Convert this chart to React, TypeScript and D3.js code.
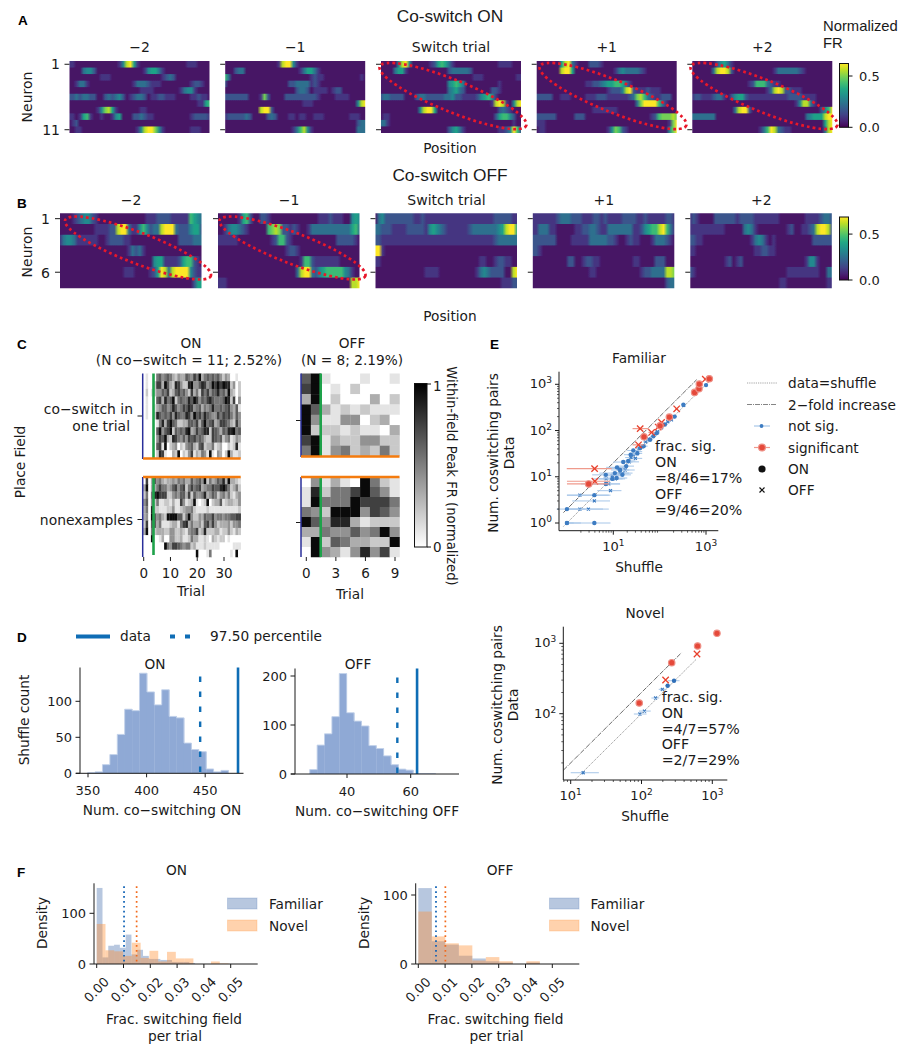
import React from "react";
import * as d3 from "d3";

const SANS = "DejaVu Sans";
const HELV = "Liberation Sans";
const INK = "#1a1a1a";

// ---- Panel A / B titles
const trialTitles = ["\u22122", "\u22121", "Switch trial", "+1", "+2"];

// ---- Panel A heat-maps: one string per neuron, one digit per spatial bin (0-9 of colour range)
const onM2 = [
  "1100000000000014895100000000000001110000",
  "0000344200000000000001455310000000000000",
  "0000000001110000000000000012320000000000",
  "0013310000000000001333211100000000122100",
  "0000000000000000000011110000000134410000",
  "2232332200232342012332011221110000112110",
  "0000000000000000000000000000000000001156",
  "0000000014785100000011000000000000000000",
  "1101561001001450002232110000000000122221",
  "0120000000000000000000000000000000000000",
  "0011000000000000000148997410000000111000",
];
const onM1 = [
  "0000000000000001899410000000000000000000",
  "0002330000000000000001355310000000000000",
  "6300000000000000000000001211000000000010",
  "2000000000000000002233331210000000000000",
  "0000000000000000000023320111101220000000",
  "2222222000172000022222222210000111100000",
  "0000000000000000000000111000000000000489",
  "0000000000899200000000000000000000000000",
  "1222223200002320001101100111000000011100",
  "0000000000000000000000000000000000000233",
  "0000000000000000000136841000000000000333",
];
const onSw = [
  "0000048940000012565310000000000001111000",
  "0000355100000000000233333200000000000000",
  "0000000000000000000000000011100000000011",
  "0000000000000000000456530000000001000000",
  "0000000000000000000345320000000221000000",
  "2332222000233222223342211112456410000000",
  "0000000000000000000000000000000189810489",
  "0000000000048995000000000000000002321000",
  "0110000000000000000000000000000025664200",
  "3310000000000000000000000000000000000100",
  "0000000000000000000245310000000001124962",
];
const onP1 = [
  "0000000589310002221000000000000000000000",
  "0000000899500000000000134333321000000000",
  "0000000000000000000000000000000000000000",
  "0000000000000011223455665310000000000000",
  "0000000000000000000012224892111211100000",
  "2222200111000011122211111123786321122200",
  "0000000000000000000000000000379999631000",
  "0000000000000000111111100000000000000000",
  "2222220000022200000000000000000012677787",
  "1110000000000000000000000000000000000179",
  "0110000000000000000014762100000000000479",
];
const onP2 = [
  "0000000245310000000000000000000000000000",
  "0000003899820000000000013333332100000000",
  "0000000000000000000000000000000000000000",
  "0000000000000000126663211000000000000000",
  "0000000000000000000001389822111000000000",
  "1221112331024552111111111112222111100000",
  "0000000000000000000000000000014883100000",
  "0000000000003899200000000000000000002469",
  "3333333000000000000000000000000034555899",
  "0000000000000000000000000000000000000589",
  "0000000000000000000136983211000000000389",
];
// ---- Panel B heat-maps
const offM2 = [
  "0000123442100000000000001112222111116543",
  "0000000000111122899311464233899932224552",
  "1344311111100122221100000000000002222333",
  "0000000000000000000132310000000000000000",
  "0000000000000000000000000045511112566210",
  "0000000000000000001110000125983899994211",
  "0000000000000000000000000000000000000255",
];
const offM1 = [
  "0000001562002210000000000000111211100454",
  "0013443210000067872212100133333333333563",
  "1111110000000001266210000000000002222210",
  "0000000000000000000122100000000000000000",
  "0000000000000000000000016621111111000000",
  "0000000000000000000000389932456666643100",
  "1110000000000000000000000000000000000889",
];
const offSw = [
  "0342222222211211111111111111111112222211",
  "3322211112222214543211111123333333458995",
  "2211111111111111111111111111111112333333",
  "9910000000000000000000000000000000000000",
  "1100000000000000000000000000011001221100",
  "0000000000000011110000000000134322220089",
  "0000000000000000000000000000000000011122",
];
const offP1 = [
  "1111111233322211122121111222211211111221",
  "1133311000001122332113333333112456689631",
  "2222222000011111333332210012110001333210",
  "2210000000000000000000000000000000000000",
  "0000000000220012211000000000110000222000",
  "0000000000000000110000000000001223333887",
  "0000000000000000000000000000000000000233",
];
const offP2 = [
  "1210000222222122221111111000000011112332",
  "1111111111000003431000000001200112389982",
  "2211000000000000013431010000000000222222",
  "1100000000000000001122110000000000000000",
  "0000000000120120000000000000000014410000",
  "2100000000000000000000000001111111110033",
  "0000000000000000000000000110000000000011",
];
const onMaps = [onM2, onM1, onSw, onP1, onP2];
const offMaps = [offM2, offM1, offSw, offP1, offP2];

// ---- Panel C: darkness digit per trial
const cOnTop = [
  "0100056456532433654759356565642430010",
  "0100277396328742289446874597979882402",
  "0201244657236756427352757466856493202",
  "0100067385692565586974657865556982704",
  "0100134664586457687456354585565674361",
  "0100286565748655874967586544757675364",
  "0000015837965223366573695673477653274",
  "0000069467926565893475688276536588956",
  "0000047693287546476756532276562451243",
  "0000067190234021456326723351230021281",
  "0000028710032902147132541910430293112",
];
const cOnBottom = [
  "0703645323343545336456492534658393321",
  "3903357553467467257567345576689752352",
  "2505897772245466372644583465245352134",
  "4604251122131174123910129023361233224",
  "3508221112241123445211112111111111112",
  "3409645329999662594224365574554556677",
  "2706635111233157835334267474233342445",
  "3905233322442232145572382223312242132",
  "0009001300442231125331121032122010000",
  "0000000095477654552311121111100000111",
  "0000000000000000000090001500000001090",
];
const cOffTop = [
  "6910001001", "7901020000", "3902000302", "9631212111",
  "9411440230", "9222121103", "7913224422", "5914523252",
];
const cOffBottom = [
  "0413109521", "1825579641", "1955597775", "5429994764",
  "9648831222", "3354464594", "1926533229", "0943148471",
];

// ---- Panel D histograms
const dOnStart = 349.7, dOnBin = 6.32;
const dOnCounts = [1, 2, 12, 26, 54, 89, 87, 139, 113, 95, 116, 79, 77, 42, 33, 30, 6, 2, 4];
const dOnData = 478, dOnPct = 445.7;
const dOffStart = 28.3, dOffBin = 2.32;
const dOffCounts = [9, 59, 82, 117, 205, 125, 108, 98, 58, 52, 37, 19, 10, 8, 1, 1, 1];
const dOffData = 62, dOffPct = 55.8;

// ---- Panel E Familiar
const famOnNsX = [1, 3.9, 1, 3.9, 6.9, 6.9, 10.8, 11.8, 15.7, 12, 16.4, 19, 23.7, 27, 33, 38, 62, 73, 87, 130, 210, 325, 1000, 14, 21, 45, 9.5];
const famOnNsY = [1, 1, 2, 4, 7, 11, 12, 9.4, 11, 16, 20.8, 17, 30, 37, 32, 42, 63, 75, 88, 135, 200, 360, 960, 14, 22, 46, 9];
const famOnNsLo = [0.95, 1, 0.6, 1, 2, 3.5, 5, 6, 9, 7, 10, 12, 17, 20, 25, 30, 52, 62, 76, 115, 185, 305, 950, 9, 15, 38, 5];
const famOnNsHi = [1.4, 8.7, 2.4, 8.7, 14, 15, 18, 20, 24, 19, 26, 28, 31, 36, 42, 46, 72, 84, 100, 148, 235, 345, 1040, 22, 30, 55, 16];
const famOffNsX = [1, 1.9, 2.9, 3.9, 1.9, 8.7, 8, 7, 11, 13, 14, 18, 22, 24, 27, 30, 33, 36, 42, 50, 58, 80, 90, 110, 150, 180, 200, 330, 16, 9.5];
const famOffNsY = [1, 2, 2, 3, 4, 5, 7, 9, 9, 15, 12, 14, 21, 26, 30, 25, 35, 41, 46, 57, 66, 85, 95, 115, 155, 170, 200, 350, 12, 10.5];
const famOffNsLo = [0.9, 1.1, 1, 1.3, 1, 4.5, 3, 3.5, 6, 8, 9, 12, 15, 18, 20, 24, 26, 30, 36, 44, 52, 72, 82, 100, 138, 165, 185, 310, 11, 6];
const famOffNsHi = [2, 6, 8, 8.5, 8, 15, 14, 13, 18, 20, 22, 29, 36, 32, 36, 42, 42, 46, 50, 58, 66, 90, 100, 122, 165, 195, 220, 355, 26, 15];
const famOnSigX = [2.94, 46, 102, 162, 568, 706, 718, 1180];
const famOnSigY = [7, 73, 127, 195, 668, 804, 1010, 1320];
const famOnSigLo = [1, 41, 95, 150, 540, 680, 690, 1120];
const famOnSigHi = [8, 52, 112, 175, 600, 735, 750, 1240];
const famOffSigX = [3.95, 4, 35, 38, 67, 110, 233, 966, 93];
const famOffSigY = [15, 8, 49, 110, 91, 150, 295, 1290, 119];
const famOffSigLo = [0.99, 1, 26, 26, 57, 98, 215, 900, 84];
const famOffSigHi = [9.2, 8.5, 45, 58, 78, 122, 250, 1030, 104];

// ---- Panel E Novel
const novOnNsX = [288, 234];
const novOnNsY = [294, 250];
const novOnNsLo = [235, 215];
const novOnNsHi = [345, 258];
const novOffNsX = [197, 158, 110, 95, 15];
const novOffNsY = [222, 167, 109, 99, 14.5];
const novOffNsLo = [175, 138, 92, 78, 10];
const novOffNsHi = [225, 178, 135, 118, 25];
const novOnSigX = [93, 267, 620, 1164];
const novOnSigY = [142, 530, 916, 1387];
const novOffSigX = [219, 608];
const novOffSigY = [301, 705];

const famText = ["frac. sig.", "ON", "=8/46=17%", "OFF", "=9/46=20%"];
const novText = ["frac. sig.", "ON", "=4/7=57%", "OFF", "=2/7=29%"];

// ---- Panel F histograms
const fOnFamBin = 0.00216;
const fOnFam = [150, 13, 36, 38, 32, 58, 19, 28, 16, 10, 10, 8, 8, 4, 4, 4, 2];
const fOnNovBin = 0.00328;
const fOnNov = [79, 27, 25, 16, 42, 12, 26, 5, 24, 11, 11, 0, 0, 5, 1];
const fOffBin = 0.00504;
const fOffFam = [110, 33, 28, 12, 8, 4, 2, 0, 2];
const fOffNov = [76, 40, 30, 27, 5, 10, 4, 0, 4];
const fOnMeans = [0.0102, 0.0149];
const fOffMeans = [0.0066, 0.0101];
const fTicks = [0, 0.01, 0.02, 0.03, 0.04, 0.05];

const BAR_FILL = "#8fa9d5";
const BAR_EDGE = "#c2d1ea";
const LINE_BLUE = "#0f6db5";

const T = ({ x, y, s = 13.7, a = "middle", f = SANS, w = 400, r, children, fill = INK, ls }: any) => (
  <text x={x} y={y} fontSize={s} fontFamily={f} fontWeight={w} textAnchor={a} fill={fill} letterSpacing={ls}
    transform={r !== undefined ? `rotate(${r} ${x} ${y})` : undefined}>{children}</text>
);

function Heat({ rows, id, x0, x1, y0, y1, ticks }: any) {
  const y = d3.scaleBand<number>().domain(d3.range(rows.length)).range([y0, y1]);
  const col = (d: number) => d3.interpolateViridis(0.05 + 0.95 * d / 9);
  return (
    <g>
      <defs>
        {rows.map((r: string, i: number) => {
          const cells = r.padEnd(40, "0").slice(0, 40).split("").map(Number);
          return (
            <linearGradient key={i} id={`${id}r${i}`}>
              {cells.map((c: number, j: number) => (
                <stop key={j} offset={(j + 0.5) / cells.length} stopColor={col(c)} />
              ))}
            </linearGradient>
          );
        })}
        <clipPath id={`${id}clip`}><rect x={x0} y={y0} width={x1 - x0} height={y1 - y0} /></clipPath>
      </defs>
      <g clipPath={`url(#${id}clip)`}>
        <g filter="url(#soft)">
          {rows.map((_: string, i: number) => (
            <rect key={i} x={x0 - 2} width={x1 - x0 + 4} y={y(i)! - (i === 0 ? 3 : 0)}
              height={y.bandwidth() + (i === 0 ? 4 : i === rows.length - 1 ? 3 : 1)} fill={`url(#${id}r${i})`} />
          ))}
        </g>
      </g>
      {ticks.map((k: number) => (
        <line key={k} x1={x0 - 5} x2={x0} y1={y(k)! + y.bandwidth() / 2} y2={y(k)! + y.bandwidth() / 2} stroke={INK} strokeWidth={1} />
      ))}
    </g>
  );
}

function Ell({ cx, cy, rx = 79, ry = 16, rot = 22 }: any) {
  return <ellipse cx={cx} cy={cy} rx={rx} ry={ry} transform={`rotate(${rot} ${cx} ${cy})`} fill="none"
    stroke="#e8172a" strokeWidth={2.7} strokeDasharray="2.7 3.1" />;
}

function VBar({ id, x0, x1, y0, y1, ticks, vmax }: any) {
  const y = d3.scaleLinear().domain([0, vmax]).range([y1, y0]);
  const stops = d3.range(0, 1.001, 0.1);
  return (
    <g>
      <defs>
        <linearGradient id={id} x1="0" y1="1" x2="0" y2="0">
          {stops.map((s: number) => <stop key={s} offset={s} stopColor={d3.interpolateViridis(s)} />)}
        </linearGradient>
      </defs>
      <rect x={x0} y={y0} width={x1 - x0} height={y1 - y0} fill={`url(#${id})`} stroke="#111" strokeWidth={1} />
      {ticks.map((t: number) => (
        <g key={t}>
          <line x1={x1} x2={x1 + 4} y1={y(t)} y2={y(t)} stroke="#111" />
          <T x={x1 + 10.5} y={y(t) + 5} a="start" s={13}>{t.toFixed(1)}</T>
        </g>
      ))}
    </g>
  );
}

function Gray({ rows, x0, x1, y0, y1, soft }: any) {
  const n = rows[0].length;
  const x = d3.scaleBand<number>().domain(d3.range(n)).range([x0, x1]);
  const y = d3.scaleBand<number>().domain(d3.range(rows.length)).range([y0, y1]);
  const c = d3.scaleLinear<string>().domain([0, 9]).range(["#ffffff", "#0a0a0a"]);
  return (
    <g filter={soft ? "url(#soft)" : undefined}>
      {rows.map((r: string, i: number) => r.split("").map((d: string, j: number) => (
        <rect key={`${i}-${j}`} x={x(j)} y={y(i)} width={x.bandwidth() + 0.25} height={y.bandwidth() + 0.25} fill={c(+d)} />
      )))}
    </g>
  );
}

function YTick({ x, y, label, s = 13 }: any) {
  return (
    <g>
      <line x1={x - 4.5} x2={x} y1={y} y2={y} stroke={INK} />
      {label !== undefined && <T x={x - 8} y={y + 5} a="end" s={s}>{label}</T>}
    </g>
  );
}

function Hist({ start, bin, counts, xs, ys, xTicks, yTicks, data, pct, axisL, axisR, top }: any) {
  const base = ys(0);
  const outline = d3.line<[number, number]>().curve(d3.curveStepAfter);
  const pts: [number, number][] = counts.map((c: number, i: number) => [xs(start + i * bin), ys(c)]);
  const end = xs(start + counts.length * bin);
  const path = outline([[xs(start), base], ...pts, [end, ys(counts[counts.length - 1])], [end, base]].map((p) => p as [number, number]));
  return (
    <g>
      {counts.map((c: number, i: number) => (
        <rect key={i} x={xs(start + i * bin)} width={xs(start + (i + 1) * bin) - xs(start + i * bin) + 0.3}
          y={ys(c)} height={base - ys(c)} fill={BAR_FILL} />
      ))}
      <path d={path!} fill="none" stroke={BAR_EDGE} strokeWidth={0.9} />
      <line x1={xs(pct)} x2={xs(pct)} y1={top + 9} y2={base} stroke={LINE_BLUE} strokeWidth={2.4} strokeDasharray="5.5 9.5" />
      <line x1={xs(data)} x2={xs(data)} y1={top} y2={base} stroke={LINE_BLUE} strokeWidth={2.6} />
      <line x1={axisL} x2={axisL} y1={top} y2={base} stroke={INK} />
      <line x1={axisL - 4} x2={axisR} y1={base} y2={base} stroke={INK} />
      {xTicks.map((t: number) => (
        <g key={t}>
          <line x1={xs(t)} x2={xs(t)} y1={base} y2={base + 4} stroke={INK} />
          <T x={xs(t)} y={base + 21.5} s={13}>{t}</T>
        </g>
      ))}
      {yTicks.map((t: number) => <YTick key={t} x={axisL} y={ys(t)} label={t} />)}
    </g>
  );
}

function Sup({ x, y, e, anchor = "middle" }: any) {
  return (
    <text x={x} y={y} fontFamily={SANS} fontSize={13} fill={INK} textAnchor={anchor}>
      10<tspan dy={-5} fontSize={9}>{e}</tspan>
    </text>
  );
}

function Marker({ kind, x, y, color, r, halo }: any) {
  if (kind === "o") return <circle cx={x} cy={y} r={r} fill={color} stroke={halo} strokeWidth={halo ? 1.2 : 0} />;
  return <path d={`M${x - r},${y - r}L${x + r},${y + r}M${x - r},${y + r}L${x + r},${y - r}`} stroke={color} strokeWidth={r > 2.5 ? 1.3 : 1.2} fill="none" />;
}

function Group({ xs, ys, X, Y, Lo, Hi, kind, color, err, r, ew, halo }: any) {
  return (
    <g>
      {Lo && X.map((_: number, i: number) => (
        <line key={i} x1={xs(Lo[i])} x2={xs(Hi[i])} y1={ys(Y[i])} y2={ys(Y[i])} stroke={err} strokeWidth={ew} />
      ))}
      {X.map((_: number, i: number) => <Marker key={i} kind={kind} x={xs(X[i])} y={ys(Y[i])} color={color} r={r} halo={halo} />)}
    </g>
  );
}

function LogAxes({ xs, ys, left, right, top, bottom, xMajor, yMajor, xMinor, yMinor }: any) {
  return (
    <g>
      <line x1={left} x2={left} y1={top} y2={bottom} stroke={INK} />
      <line x1={left} x2={right} y1={bottom} y2={bottom} stroke={INK} />
      {xMinor.filter((v: number) => xs(v) >= left && xs(v) <= right).map((v: number) => (
        <line key={v} x1={xs(v)} x2={xs(v)} y1={bottom} y2={bottom + 2} stroke={INK} strokeWidth={0.7} />
      ))}
      {yMinor.filter((v: number) => ys(v) <= bottom && ys(v) >= top).map((v: number) => (
        <line key={v} x1={left - 2} x2={left} y1={ys(v)} y2={ys(v)} stroke={INK} strokeWidth={0.7} />
      ))}
      {xMajor.map((v: number) => (
        <g key={v}>
          <line x1={xs(v)} x2={xs(v)} y1={bottom} y2={bottom + 4} stroke={INK} />
          <Sup x={xs(v)} y={bottom + 20} e={Math.round(Math.log10(v))} />
        </g>
      ))}
      {yMajor.map((v: number) => (
        <g key={v}>
          <line x1={left - 4} x2={left} y1={ys(v)} y2={ys(v)} stroke={INK} />
          <Sup x={left - 7} y={ys(v) + 4} e={Math.round(Math.log10(v))} anchor="end" />
        </g>
      ))}
    </g>
  );
}

const minorDecades = [1, 10, 100, 1000].flatMap((d) => [2, 3, 4, 5, 6, 7, 8, 9].map((k) => k * d));

function Refs({ xs, ys, a0, a1, b0, b1 }: any) {
  return (
    <g>
      <line x1={xs(a0)} x2={xs(a1)} y1={ys(a0)} y2={ys(a1)} stroke="#8a8a8a" strokeWidth={0.9} strokeDasharray="1.2 1" />
      <line x1={xs(b0)} x2={xs(b1)} y1={ys(2 * b0)} y2={ys(2 * b1)} stroke="#5a5a5a" strokeWidth={0.9} strokeDasharray="5 1 1 1" />
    </g>
  );
}

function FHist({ fam, nov, famBin, novBin, xs, ys, means, axisL, axisR, top, yTick }: any) {
  const base = ys(0);
  const bars = (arr: number[], bin: number, fill: string) => arr.map((c: number, i: number) => (
    <rect key={i} x={xs(i * bin)} width={xs((i + 1) * bin) - xs(i * bin)} y={ys(c)} height={base - ys(c)}
      fill={fill} fillOpacity={0.4} />
  ));
  return (
    <g>
      {bars(fam, famBin, "#4c72b0")}
      {bars(nov, novBin, "#ff8f33")}
      <line x1={xs(means[0])} x2={xs(means[0])} y1={top + 3} y2={base} stroke="#0b5fb4" strokeWidth={1.7} strokeDasharray="1.7 3.2" />
      <line x1={xs(means[1])} x2={xs(means[1])} y1={top + 3} y2={base} stroke="#f26a1b" strokeWidth={1.7} strokeDasharray="1.7 3.2" />
      <line x1={axisL} x2={axisL} y1={top} y2={base} stroke={INK} />
      <line x1={axisL} x2={axisR} y1={base} y2={base} stroke={INK} />
      {fTicks.map((t: number) => (
        <g key={t}>
          <line x1={xs(t)} x2={xs(t)} y1={base} y2={base + 4} stroke={INK} />
          <T x={xs(t) + 3} y={base + 29} r={-45} s={13}>{t.toFixed(2)}</T>
        </g>
      ))}
      {yTick.map((t: number) => <YTick key={t} x={axisL} y={ys(t)} label={t} />)}
    </g>
  );
}

function FLegend({ x, textX }: any) {
  return (
    <g>
      <rect x={x} y={898} width={29.5} height={11} fill="#4c72b0" fillOpacity={0.4} stroke="#4c72b0" strokeOpacity={0.25} />
      <rect x={x} y={920} width={29.5} height={11} fill="#ff8f33" fillOpacity={0.4} stroke="#ff8f33" strokeOpacity={0.25} />
      <T x={textX} y={909} a="start">Familiar</T>
      <T x={textX} y={930.5} a="start">Novel</T>
    </g>
  );
}

export default function App() {
  const aX = [69.5, 225.2, 381, 536.7, 692.3];
  const bX = [60, 218, 375.5, 532.8, 690.3];
  const cTop = 373.5;

  // D scales
  const dOnX = d3.scaleLinear().domain([350, 450]).range([88, 205.2]);
  const dOnY = d3.scaleLinear().domain([0, 100]).range([773.3, 701.3]);
  const dOffX = d3.scaleLinear().domain([40, 60]).range([347, 410.7]);
  const dOffY = d3.scaleLinear().domain([0, 200]).range([774, 676]);

  // E scales
  const fx = d3.scaleLog().domain([10, 1000]).range([613.3, 706]);
  const fy = d3.scaleLog().domain([1, 1000]).range([523, 384.3]);
  const nx = d3.scaleLog().domain([10, 1000]).range([570.7, 712.3]);
  const ny = d3.scaleLog().domain([100, 1000]).range([713.7, 643.3]);

  // F scales
  const f1x = d3.scaleLinear().domain([0, 0.05]).range([96.7, 230.7]);
  const f1y = d3.scaleLinear().domain([0, 100]).range([964, 913.3]);
  const f2x = d3.scaleLinear().domain([0, 0.05]).range([418.3, 552.3]);
  const f2y = d3.scaleLinear().domain([0, 100]).range([964, 895]);

  const cOnX = d3.scaleLinear().domain([0, 30]).range([143.7, 224]);
  const cOffX = d3.scaleLinear().domain([0, 9]).range([306.3, 395]);

  const grayStops = [0, 1];

  return (
    <svg width={914} height={1050} style={{ position: "absolute", left: 0, top: 0, background: "#fff" }}>
      <defs>
        <filter id="soft" x="-2%" y="-2%" width="104%" height="104%">
          <feGaussianBlur stdDeviation="0.45" />
        </filter>
      </defs>
      {/* letters */}
      {[["A", 18, 25], ["B", 17, 208], ["C", 17, 349], ["D", 17, 642], ["E", 490, 349], ["F", 17, 877]].map(([l, x, y]: any) => (
        <T key={l} x={x} y={y} a="start" s={13.5} f={HELV} w={700} fill="#000">{l}</T>
      ))}

      {/* Panel A */}
      <T x={450} y={22} s={17.3} f={HELV}>Co-switch ON</T>
      {onMaps.map((rows, i) => (
        <g key={i}>
          <Heat rows={rows} id={`a${i}`} x0={aX[i]} x1={aX[i] + 140} y0={61} y1={133} ticks={[0, 10]} />
          <T x={aX[i] + 70} y={52} s={14}>{trialTitles[i]}</T>
        </g>
      ))}
      <Ell cx={453} cy={96} />
      <Ell cx={613} cy={96} />
      <Ell cx={764} cy={96} />
      <T x={60} y={69} a="end" s={14}>1</T>
      <T x={60} y={135} a="end" s={14}>11</T>
      <T x={32} y={97} r={-90} s={14}>Neuron</T>
      <T x={450} y={153}>Position</T>
      <T x={823} y={31} a="start" s={14.8} f={HELV}>Normalized</T>
      <T x={823} y={48} a="start" s={14.8} f={HELV}>FR</T>
      <VBar id="cbA" x0={839.5} x1={848.5} y0={63.5} y1={127.3} ticks={[0, 0.5]} vmax={0.622} />

      {/* Panel B */}
      <T x={450} y={181} s={17.3} f={HELV}>Co-switch OFF</T>
      {offMaps.map((rows, i) => (
        <g key={i}>
          <Heat rows={rows} id={`b${i}`} x0={bX[i]} x1={bX[i] + 141.5} y0={213.3} y1={288.3} ticks={[0, 5]} />
          <T x={bX[i] + 71} y={205} s={14}>{trialTitles[i]}</T>
        </g>
      ))}
      <Ell cx={138} cy={248} rx={78} ry={15.5} rot={21} />
      <Ell cx={292.5} cy={248} rx={78} ry={15.5} rot={21} />
      <T x={50} y={224} a="end" s={14}>1</T>
      <T x={50} y={278} a="end" s={14}>6</T>
      <T x={32} y={252} r={-90} s={14}>Neuron</T>
      <T x={450} y={321}>Position</T>
      <VBar id="cbB" x0={839.5} x1={848.5} y0={217} y1={280} ticks={[0, 0.5]} vmax={0.686} />

      {/* Panel C */}
      <T x={191} y={348}>ON</T>
      <T x={189} y={365}>(N co{"\u2212"}switch = 11; 2.52%)</T>
      <T x={352} y={348}>OFF</T>
      <T x={352} y={365}>(N = 8; 2.19%)</T>
      <Gray rows={cOnTop} x0={143} x1={240.7} y0={cTop} y1={458} soft />
      <Gray rows={cOnBottom} x0={143} x1={240.7} y0={477} y1={557} soft />
      <Gray rows={cOffTop} x0={301} x1={399.5} y0={cTop} y1={456} />
      <Gray rows={cOffBottom} x0={301} x1={399.5} y0={477} y1={557} />
      {[[142.7, cTop, 459], [142.7, 477, 557], [301, cTop, 457], [301, 477, 557]].map(([x, a, b], i) => (
        <line key={i} x1={x} x2={x} y1={a} y2={b} stroke="#2a2f9a" strokeWidth={1.5} />
      ))}
      {[[153.5, cTop, 459], [153.5, 477, 555], [320.7, cTop, 457], [320.7, 477, 557]].map(([x, a, b], i) => (
        <line key={i} x1={x} x2={x} y1={a} y2={b} stroke="#1ea24a" strokeWidth={2.6} />
      ))}
      {[[143, 240.7, 458.5], [143, 240.7, 477], [301, 399.5, 456.5], [301, 399.5, 477]].map(([a, b, y], i) => (
        <line key={i} x1={a} x2={b} y1={y} y2={y} stroke="#f47b0e" strokeWidth={2.6} />
      ))}
      <YTick x={142} y={416} />
      <YTick x={142} y={519.5} />
      <YTick x={300.5} y={420.5} />
      <YTick x={300.5} y={522.5} />
      <T x={133} y={414} a="end" s={13.9}>co{"\u2212"}switch in</T>
      <T x={130} y={431} a="end" s={13.9}>one trial</T>
      <T x={133} y={525} a="end" s={13.9}>nonexamples</T>
      <T x={25} y={462} r={-90}>Place Field</T>
      {[0, 10, 20, 30].map((t) => (
        <g key={t}>
          <line x1={cOnX(t)} x2={cOnX(t)} y1={557} y2={561} stroke={INK} />
          <T x={cOnX(t)} y={578} s={13.5}>{t}</T>
        </g>
      ))}
      {[0, 3, 6, 9].map((t) => (
        <g key={t}>
          <line x1={cOffX(t)} x2={cOffX(t)} y1={557} y2={561} stroke={INK} />
          <T x={cOffX(t)} y={578} s={13.5}>{t}</T>
        </g>
      ))}
      <T x={191} y={596}>Trial</T>
      <T x={350} y={599}>Trial</T>
      <defs>
        <linearGradient id="cbC" x1="0" y1="1" x2="0" y2="0">
          {grayStops.map((s) => <stop key={s} offset={s} stopColor={d3.interpolateGreys(s === 0 ? 0 : 1)} />)}
        </linearGradient>
      </defs>
      <rect x={414.5} y={383.5} width={12.5} height={163.5} fill="url(#cbC)" stroke="#111" />
      <line x1={427} x2={431} y1={384} y2={384} stroke="#111" />
      <line x1={427} x2={431} y1={547} y2={547} stroke="#111" />
      <T x={433} y={391} a="start" s={13.5}>1</T>
      <T x={433} y={552} a="start" s={13.5}>0</T>
      <T x={447} y={476} r={90} s={13.2}>Within-field Peak FR (normalized)</T>

      {/* Panel D */}
      <line x1={76} x2={110} y1={636.5} y2={636.5} stroke={LINE_BLUE} strokeWidth={4} />
      <T x={120} y={641} a="start">data</T>
      <line x1={170} x2={191} y1={636.5} y2={636.5} stroke={LINE_BLUE} strokeWidth={4} strokeDasharray="5 10" />
      <T x={210} y={641} a="start">97.50 percentile</T>
      <Hist start={dOnStart} bin={dOnBin} counts={dOnCounts} xs={dOnX} ys={dOnY} xTicks={[350, 400, 450]} yTicks={[0, 50, 100]}
        data={dOnData} pct={dOnPct} axisL={80} axisR={243.5} top={667.5} />
      <Hist start={dOffStart} bin={dOffBin} counts={dOffCounts} xs={dOffX} ys={dOffY} xTicks={[40, 60]} yTicks={[0, 100, 200]}
        data={dOffData} pct={dOffPct} axisL={295} axisR={459} top={668.5} />
      <T x={155} y={669}>ON</T>
      <T x={358} y={669}>OFF</T>
      <T x={29} y={720} r={-90}>Shuffle count</T>
      <T x={162} y={815}>Num. co{"\u2212"}switching ON</T>
      <T x={377} y={816}>Num. co{"\u2212"}switching OFF</T>

      {/* Panel E Familiar */}
      <T x={639} y={363}>Familiar</T>
      <T x={498} y={453} r={-90}>Num. coswitching pairs</T>
      <T x={514} y={453} r={-90}>Data</T>
      <T x={639} y={572}>Shuffle</T>
      <Refs xs={fx} ys={fy} a0={0.84} a1={1260} b0={0.84} b1={630} />
      <Group xs={fx} ys={fy} X={famOffNsX} Y={famOffNsY} Lo={famOffNsLo} Hi={famOffNsHi} kind="x" color="#3d7cc2" err="#a7c6e8" r={1.5} ew={1} />
      <Group xs={fx} ys={fy} X={famOnNsX} Y={famOnNsY} Lo={famOnNsLo} Hi={famOnNsHi} kind="o" color="#3d7cc2" err="#a7c6e8" r={2.2} ew={1} />
      <Group xs={fx} ys={fy} X={famOffSigX} Y={famOffSigY} Lo={famOffSigLo} Hi={famOffSigHi} kind="x" color="#e8402c" err="#ef9a8c" r={3.2} ew={1.2} />
      <Group xs={fx} ys={fy} X={famOnSigX} Y={famOnSigY} Lo={famOnSigLo} Hi={famOnSigHi} kind="o" color="#e5493a" err="#ef9a8c" r={3.2} ew={1.2} halo="#ee8f85" />
      <LogAxes xs={fx} ys={fy} left={559} right={718.3} top={371.7} bottom={530.7} xMajor={[10, 1000]} yMajor={[1, 10, 100, 1000]} xMinor={minorDecades} yMinor={minorDecades} />
      {famText.map((t, i) => <T key={i} x={655} y={[451, 466.5, 483, 498.5, 515][i]} a="start" s={14.2}>{t}</T>)}

      {/* E legend */}
      <line x1={747} x2={777} y1={383} y2={383} stroke="#9a9a9a" strokeWidth={0.9} strokeDasharray="1.2 1" />
      <line x1={747} x2={777} y1={404.5} y2={404.5} stroke="#777" strokeWidth={0.9} strokeDasharray="5 1 1 1" />
      <line x1={754} x2={770} y1={426} y2={426} stroke="#a7c6e8" strokeWidth={1.2} />
      <circle cx={761.5} cy={426} r={1.9} fill="#3d7cc2" />
      <line x1={754} x2={770} y1={447.5} y2={447.5} stroke="#ef9a8c" strokeWidth={1.2} />
      <circle cx={762} cy={447.5} r={3.4} fill="#e5493a" stroke="#ee8f85" strokeWidth={1.2} />
      <circle cx={762} cy={469} r={3.6} fill="#111" />
      <path d="M759.5,487.5L764.5,492.5M759.5,492.5L764.5,487.5" stroke="#111" strokeWidth={1.2} />
      {["data=shuffle", "2\u2212fold increase", "not sig.", "significant", "ON", "OFF"].map((t, i) => (
        <T key={t} x={788} y={[388, 409.5, 431, 452.5, 473.5, 495][i]} a="start">{t}</T>
      ))}

      {/* Panel E Novel */}
      <T x={645} y={618}>Novel</T>
      <T x={502} y={705} r={-90}>Num. coswitching pairs</T>
      <T x={518} y={705} r={-90}>Data</T>
      <T x={645} y={821}>Shuffle</T>
      <Refs xs={nx} ys={ny} a0={11.5} a1={600} b0={7.9} b1={365} />
      <Group xs={nx} ys={ny} X={novOffNsX} Y={novOffNsY} Lo={novOffNsLo} Hi={novOffNsHi} kind="x" color="#3d7cc2" err="#a7c6e8" r={1.5} ew={1} />
      <Group xs={nx} ys={ny} X={novOnNsX} Y={novOnNsY} Lo={novOnNsLo} Hi={novOnNsHi} kind="o" color="#2f6fb8" err="#a7c6e8" r={2.2} ew={1} />
      <Group xs={nx} ys={ny} X={novOffSigX} Y={novOffSigY} kind="x" color="#e8402c" r={3.2} />
      <Group xs={nx} ys={ny} X={novOnSigX} Y={novOnSigY} kind="o" color="#e5493a" r={3.2} halo="#ee8f85" />
      <LogAxes xs={nx} ys={ny} left={563.3} right={727.3} top={626.7} bottom={780} xMajor={[10, 100, 1000]} yMajor={[100, 1000]} xMinor={minorDecades} yMinor={minorDecades} />
      {novText.map((t, i) => <T key={i} x={661.7} y={[702, 718, 734, 749, 765][i]} a="start" s={14.2}>{t}</T>)}

      {/* Panel F */}
      <FHist fam={fOnFam} nov={fOnNov} famBin={fOnFamBin} novBin={fOnNovBin} xs={f1x} ys={f1y} means={fOnMeans} axisL={94} axisR={257.7} top={883.3} yTick={[0, 100]} />
      <FHist fam={fOffFam} nov={fOffNov} famBin={fOffBin} novBin={fOffBin} xs={f2x} ys={f2y} means={fOffMeans} axisL={415.7} axisR={579.3} top={883.3} yTick={[0, 100]} />
      <FLegend x={227.5} textX={269} />
      <FLegend x={549.5} textX={590.5} />
      <T x={176.5} y={875}>ON</T>
      <T x={500} y={875}>OFF</T>
      <T x={47} y={923} r={-90}>Density</T>
      <T x={369} y={923} r={-90}>Density</T>
      <T x={174} y={1024}>Frac. switching field</T>
      <T x={175} y={1041}>per trial</T>
      <T x={495.5} y={1024}>Frac. switching field</T>
      <T x={496.5} y={1041}>per trial</T>
    </svg>
  );
}
